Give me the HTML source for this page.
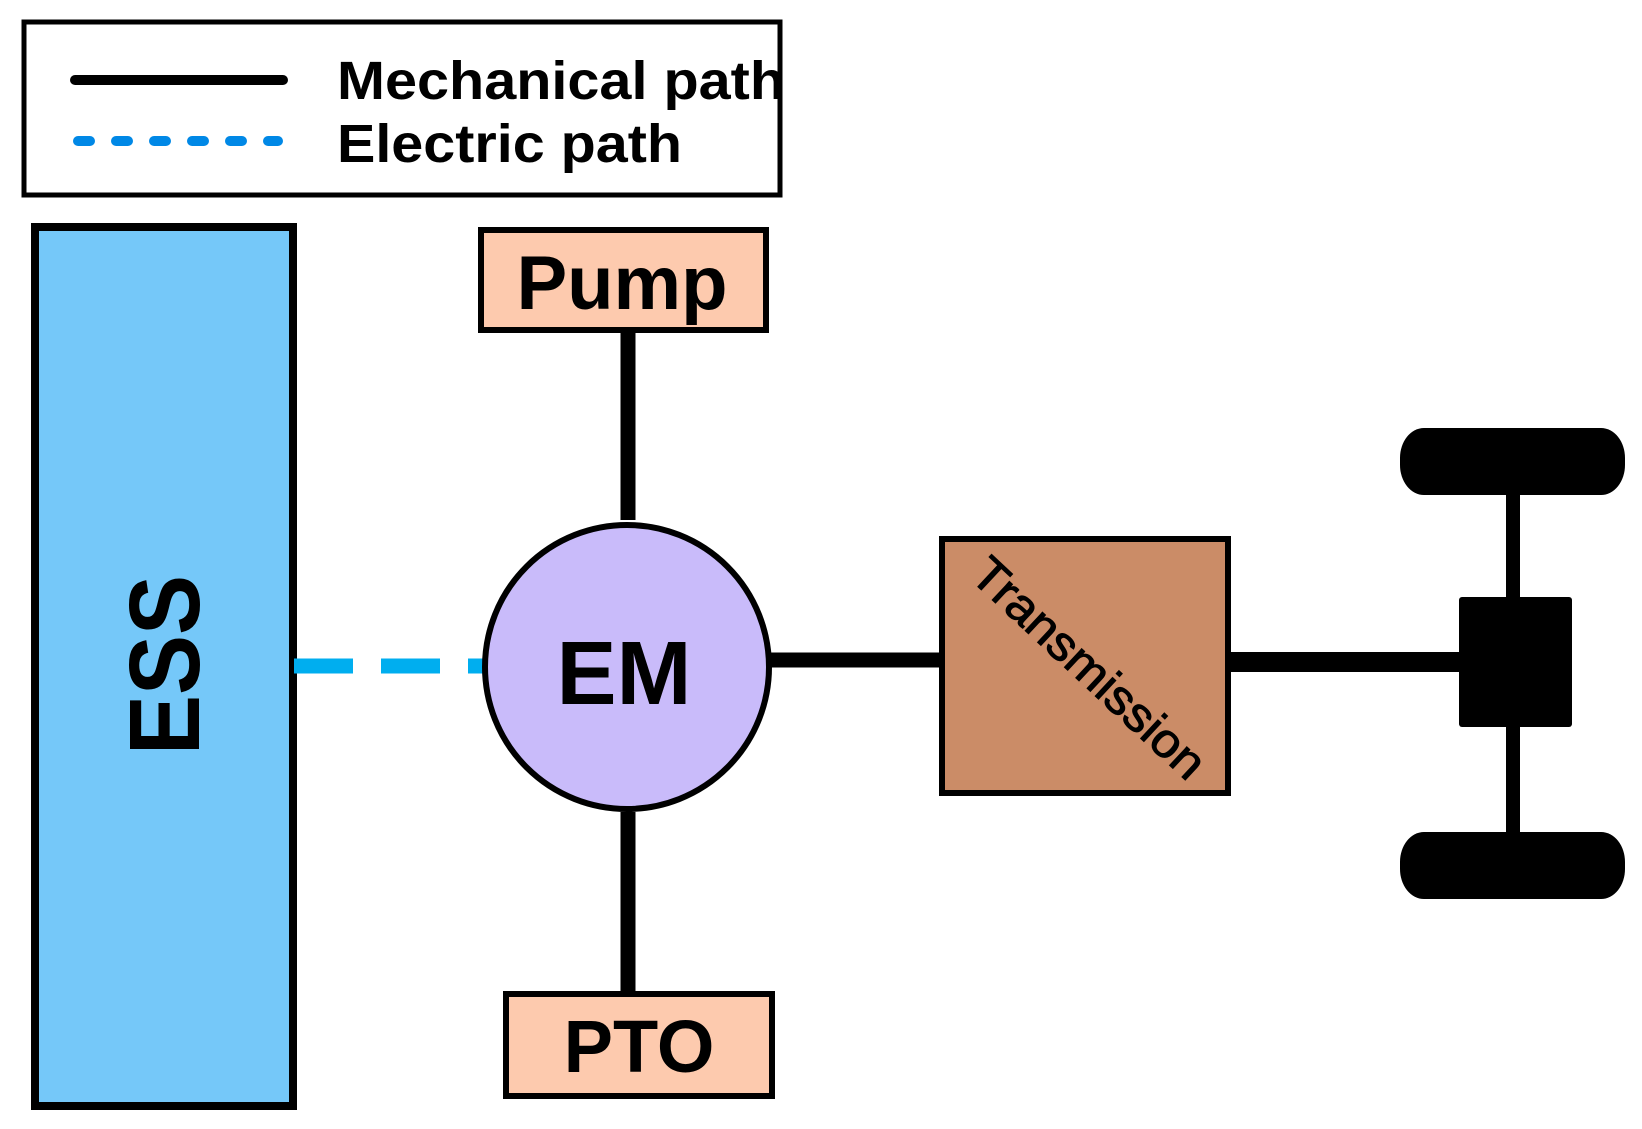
<!DOCTYPE html>
<html><head><style>
html,body{margin:0;padding:0;background:#fff;}
svg{display:block;}
text{font-family:"Liberation Sans",Arial,sans-serif;font-weight:bold;fill:#000;}
</style></head><body>
<svg width="1642" height="1129" viewBox="0 0 1642 1129" xmlns="http://www.w3.org/2000/svg">
<!-- legend -->
<rect x="24" y="22" width="756" height="173" fill="#fff" stroke="#000" stroke-width="5"/>
<line x1="75" y1="80" x2="283" y2="80" stroke="#000" stroke-width="10" stroke-linecap="round"/>
<line x1="78" y1="141" x2="278" y2="141" stroke="#0088e6" stroke-width="10" stroke-linecap="round" stroke-dasharray="12 26"/>
<text x="337" y="99" font-size="54" textLength="448" lengthAdjust="spacingAndGlyphs">Mechanical path</text>
<text x="337" y="162" font-size="54" textLength="345" lengthAdjust="spacingAndGlyphs">Electric path</text>
<!-- ESS -->
<rect x="35" y="227" width="258" height="879" fill="#75c8f9" stroke="#000" stroke-width="8"/>
<text transform="translate(199,665) rotate(-90)" text-anchor="middle" font-size="100" textLength="180" lengthAdjust="spacingAndGlyphs">ESS</text>
<!-- dashed electric -->
<line x1="294" y1="666" x2="492" y2="666" stroke="#00aeef" stroke-width="15" stroke-dasharray="59 28"/>
<!-- Pump -->
<rect x="481" y="230" width="285" height="100" fill="#fdcaae" stroke="#000" stroke-width="6"/>
<text x="622" y="309" text-anchor="middle" font-size="76">Pump</text>
<line x1="628" y1="330" x2="628" y2="520" stroke="#000" stroke-width="15"/>
<!-- PTO -->
<line x1="628" y1="812" x2="628" y2="995" stroke="#000" stroke-width="15"/>
<rect x="506" y="994" width="266" height="102" fill="#fdcaae" stroke="#000" stroke-width="6"/>
<text x="639" y="1072" text-anchor="middle" font-size="74">PTO</text>
<!-- EM -->
<line x1="770" y1="660" x2="945" y2="660" stroke="#000" stroke-width="15"/>
<circle cx="627" cy="667" r="142" fill="#c9bbfa" stroke="#000" stroke-width="6"/>
<text x="624" y="704" text-anchor="middle" font-size="90">EM</text>
<!-- Transmission -->
<rect x="942" y="539" width="286" height="254" fill="#cb8c67" stroke="#000" stroke-width="6"/>
<text transform="translate(1078,680) rotate(43)" text-anchor="middle" font-size="48" style="font-weight:normal;stroke:#000;stroke-width:1" textLength="300" lengthAdjust="spacingAndGlyphs">Transmission</text>
<line x1="1228" y1="662" x2="1460" y2="662" stroke="#000" stroke-width="20"/>
<!-- axle -->
<line x1="1513" y1="480" x2="1513" y2="845" stroke="#000" stroke-width="14"/>
<rect x="1459" y="597" width="113" height="130" rx="3" fill="#000"/>
<rect x="1400" y="428" width="225" height="67" rx="24" ry="30" fill="#000"/>
<rect x="1400" y="832" width="225" height="67" rx="24" ry="30" fill="#000"/>
</svg>
</body></html>
